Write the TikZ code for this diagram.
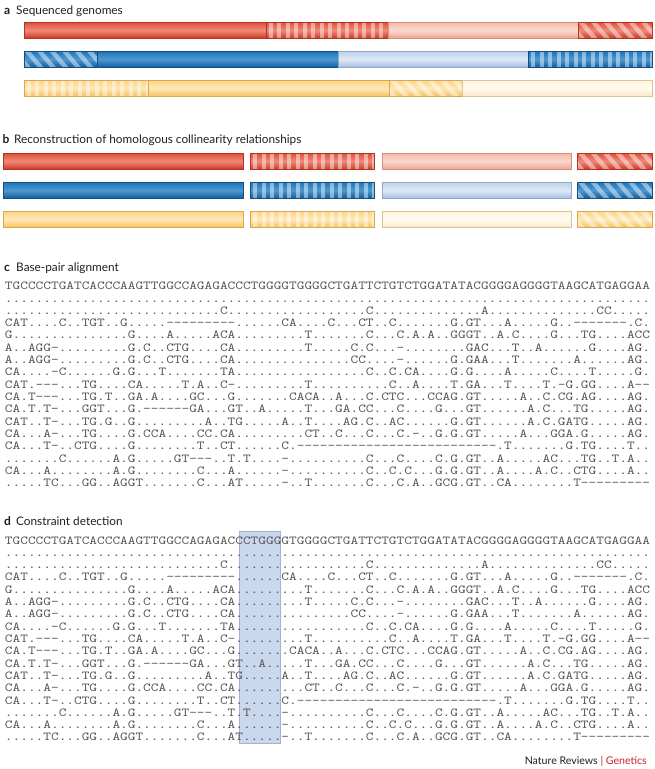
\documentclass[tikz,border=0pt]{standalone}
\usepackage{fontspec}
\setmainfont{Lato}
\newfontfamily\alnfont[FakeStretch=1.2,Ligatures=TeXOff]{lmmono10-regular.otf}
\ExplSyntaxOn
\newcommand\dts[1]{\prg_replicate:nn{#1}{.}}
\newcommand\dsh[1]{\prg_replicate:nn{#1}{-}}
\ExplSyntaxOff
\definecolor{RD}{HTML}{C93626}\definecolor{RM}{HTML}{DF4E38}\definecolor{RL}{HTML}{F08A76}\definecolor{RE}{HTML}{B83222}
\definecolor{PD}{HTML}{EEA28F}\definecolor{PM}{HTML}{F6B9A9}\definecolor{PL}{HTML}{FBD9CF}\definecolor{PE}{HTML}{D88E7B}
\definecolor{BD}{HTML}{0F5C9C}\definecolor{BM}{HTML}{1C74B8}\definecolor{BL}{HTML}{4F98D0}\definecolor{BE}{HTML}{0E4F86}
\definecolor{LD}{HTML}{A2BDDF}\definecolor{LM}{HTML}{BCD1EB}\definecolor{LL}{HTML}{DFE9F6}\definecolor{LE}{HTML}{8FA9CC}
\definecolor{YD}{HTML}{F5C05C}\definecolor{YM}{HTML}{FCD484}\definecolor{YL}{HTML}{FEE8B8}\definecolor{YE}{HTML}{D9A94E}
\definecolor{CD}{HTML}{FBE8C4}\definecolor{CM}{HTML}{FFF3DD}\definecolor{CL}{HTML}{FFFBF1}\definecolor{CE}{HTML}{D9C39A}
\definecolor{alngray}{HTML}{555555}
\definecolor{titlegray}{HTML}{231F20}
\definecolor{gen}{HTML}{D0202E}
\definecolor{hlfill}{HTML}{C9D8EC}
\definecolor{hledge}{HTML}{9FB4D3}
\newcommand\solseg[4]{%
  \shade[top color=#4M,bottom color=#4D,middle color=#4L] (#1,#3) rectangle (#2,#3+16.5);
  \draw[#4E,line width=0.5pt] (#1,#3) rectangle (#2,#3+16.5);}
\newcommand\vstseg[4]{%
  \shade[top color=#4M,bottom color=#4D,middle color=#4L] (#1,#3) rectangle (#2,#3+16.5);
  \begin{scope}
    \clip (#1,#3) rectangle (#2,#3+16.5);
    \foreach \sx in {0,...,16}
      \fill[white,opacity=0.45] ({#1+2.5+\sx*8.5},#3) rectangle ({#1+6.8+\sx*8.5},#3+16.5);
  \end{scope}
  \draw[#4E,line width=0.5pt] (#1,#3) rectangle (#2,#3+16.5);}
\newcommand\dgseg[4]{%
  \shade[top color=#4M,bottom color=#4D,middle color=#4L] (#1,#3) rectangle (#2,#3+16.5);
  \begin{scope}
    \clip (#1,#3) rectangle (#2,#3+16.5);
    \foreach \sx in {-2,...,8}
      \fill[white,opacity=0.45] ({#1+\sx*12.5},#3) -- ({#1+\sx*12.5+5.8},#3)
        -- ({#1+\sx*12.5+19.8},#3+16.5) -- ({#1+\sx*12.5+14},#3+16.5) -- cycle;
  \end{scope}
  \draw[#4E,line width=0.5pt] (#1,#3) rectangle (#2,#3+16.5);}
\newcommand\alnrows{%
TGCCCCTGATCACCCAAGTTGGCCAGAGACCCTGGGGTGGGGCTGATTCTGTCTGGATATACGGGGAGGGGTAAGCATGAGGAA,%
\dts{84},%
\dts{28}C\dts{18}C\dts{14}A\dts{14}CC\dts{5},%
CAT\dts{4}C\dts{2}TGT\dts{2}G\dts{5}\dsh{9}\dts{6}CA\dts{4}C\dts{3}CT\dts{2}C\dts{7}G.GT\dts{3}A\dts{5}G\dts{2}\dsh{7}.C.,%
G\dts{15}G\dts{4}A\dts{5}ACA\dts{9}T\dts{7}C\dts{3}C.A.A\dts{2}GGGT\dts{2}A.C\dts{4}G\dts{3}TG\dts{4}ACC,%
A..AGG-\dts{9}G.C..CTG\dts{4}CA\dts{9}T\dts{5}C.C\dts{3}-\dts{8}GAC\dts{3}T..A\dts{6}G\dts{4}AG.,%
A..AGG-\dts{9}G.C..CTG\dts{4}CA\dts{15}CC\dts{4}-\dts{6}G.GAA\dts{3}T\dts{7}A\dts{6}AG.,%
CA\dts{4}-C\dts{6}G.G\dts{3}T\dts{7}TA\dts{17}C\dts{2}C.CA\dts{4}G.G\dts{4}A\dts{5}C\dts{4}T\dts{5}G.,%
CAT.\dsh{3}\dts{3}TG\dts{4}CA\dts{5}T.A\dts{2}C-\dts{9}T\dts{10}C\dts{2}A\dts{4}T.GA\dts{3}T\dts{4}T.-G.GG\dts{4}A--,%
CA.T\dsh{3}\dts{3}TG.T..GA.A\dts{4}GC\dts{3}G\dts{7}CACA..A\dts{3}C.CTC\dts{3}CCAG.GT\dts{5}A..C.CG.AG\dts{4}AG.,%
CA.T.T-\dts{3}GGT\dts{3}G.\dsh{6}GA\dts{3}GT..A\dts{5}T\dts{3}GA.CC\dts{3}C\dts{4}G\dts{3}GT\dts{6}A.C\dts{3}TG\dts{5}AG.,%
CAT..T-\dts{3}TG.G..G\dts{9}A..TG\dts{5}A..T\dts{4}AG.C..AC\dts{6}G.GT\dts{6}A.C.GATG\dts{5}AG.,%
CA\dts{3}A-\dts{3}TG\dts{4}G.CCA\dts{4}CC.CA\dts{9}CT..C\dts{3}C\dts{3}C.-\dts{2}G.G.GT\dts{5}A\dts{3}GGA.G\dts{5}AG.,%
CA\dts{3}T-..CTG\dts{4}G\dts{8}T..CT\dts{6}C.\dsh{26}.T\dts{7}G.TG\dts{4}T..,%
\dts{7}C\dts{6}A.G\dts{5}GT\dsh{3}..T.T\dts{4}-\dts{10}C\dts{3}C\dts{4}C.G.GT..A\dts{5}AC\dts{3}TG..T.A..,%
CA\dts{3}A\dts{8}A.G\dts{8}C\dts{3}A\dts{6}-\dts{10}C..C.C\dts{3}G.G.GT..A\dts{4}A.C..CTG\dts{4}A..,%
\dts{5}TC\dts{3}GG..AGGT\dts{7}C\dts{3}AT\dts{5}-..T\dts{7}C\dts{3}C.A\dts{2}GCG.GT..CA\dts{8}T\dsh{9}}
\tikzset{
  aln/.style={anchor=base west,inner sep=0pt,outer sep=0pt,text=alngray,
    font=\alnfont\fontsize{12.19pt}{12.3pt}\selectfont},
  ttl/.style={anchor=base west,inner sep=0pt,text=titlegray,
    font=\fontsize{11.8pt}{13pt}\selectfont},
  ttlletter/.style={ttl,font=\fontsize{12pt}{13pt}\selectfont\bfseries},
}
\begin{document}
\begin{tikzpicture}[x=1pt,y=-1pt]
\fill[white] (0,0) rectangle (655,769);
\useasboundingbox (0,0) rectangle (655,769);
% ---- a ----
\node[ttlletter] (la) at (4,14) {a};
\node[ttl] (ta) at (16,14) {Sequenced genomes};
\solseg{24}{266}{22}{R}\vstseg{266}{388.6}{22}{R}\solseg{388.6}{578}{22}{P}\dgseg{578}{652}{22}{R}
\dgseg{24}{97.6}{51}{B}\solseg{97.6}{338.4}{51}{B}\solseg{338.4}{528.5}{51}{L}\vstseg{528.5}{652}{51}{B}
\vstseg{24}{147.8}{80}{Y}\solseg{147.8}{389.5}{80}{Y}\dgseg{389.5}{462}{80}{Y}\solseg{462}{652}{80}{C}
% ---- b ----
\node[ttlletter] (lb) at (2.5,143) {b};
\node[ttl] (tb) at (14,143) {Reconstruction of homologous collinearity relationships};
\solseg{3}{243}{153}{R}\vstseg{250.5}{374}{153}{R}\solseg{382}{571.5}{153}{P}\dgseg{577.5}{652}{153}{R}
\solseg{3}{243}{182}{B}\vstseg{250.5}{374}{182}{B}\solseg{382}{571.5}{182}{L}\dgseg{577.5}{652}{182}{B}
\solseg{3}{243}{211}{Y}\vstseg{250.5}{374}{211}{Y}\solseg{382}{571.5}{211}{C}\dgseg{577.5}{652}{211}{Y}
% ---- c and d ----
\node[ttlletter] (lc) at (4,271) {c};
\node[ttl] (tc) at (16,271) {Base-pair alignment};
\node[ttlletter] (ld) at (4,525) {d};
\node[ttl] (td) at (16,525) {Constraint detection};
\fill[hlfill] (239.3,531.7) rectangle (280.7,743);
\draw[hledge,line width=0.6pt] (239.3,531.7) rectangle (280.7,743);
\foreach \s [count=\i from 0] in \alnrows {
  \node[aln] (c\i) at (5,{289.7+12.31*\i}) {\s};
  \node[aln] (d\i) at (5,{544+12.31*\i}) {\s};
}
% ---- footer ----
\node[anchor=base east,inner sep=0pt,font=\fontsize{10.6pt}{12pt}\selectfont,text=titlegray] (ft)
  at (647,764) {Nature Reviews \textcolor{gen}{| Genetics}};
\end{tikzpicture}
\end{document}
